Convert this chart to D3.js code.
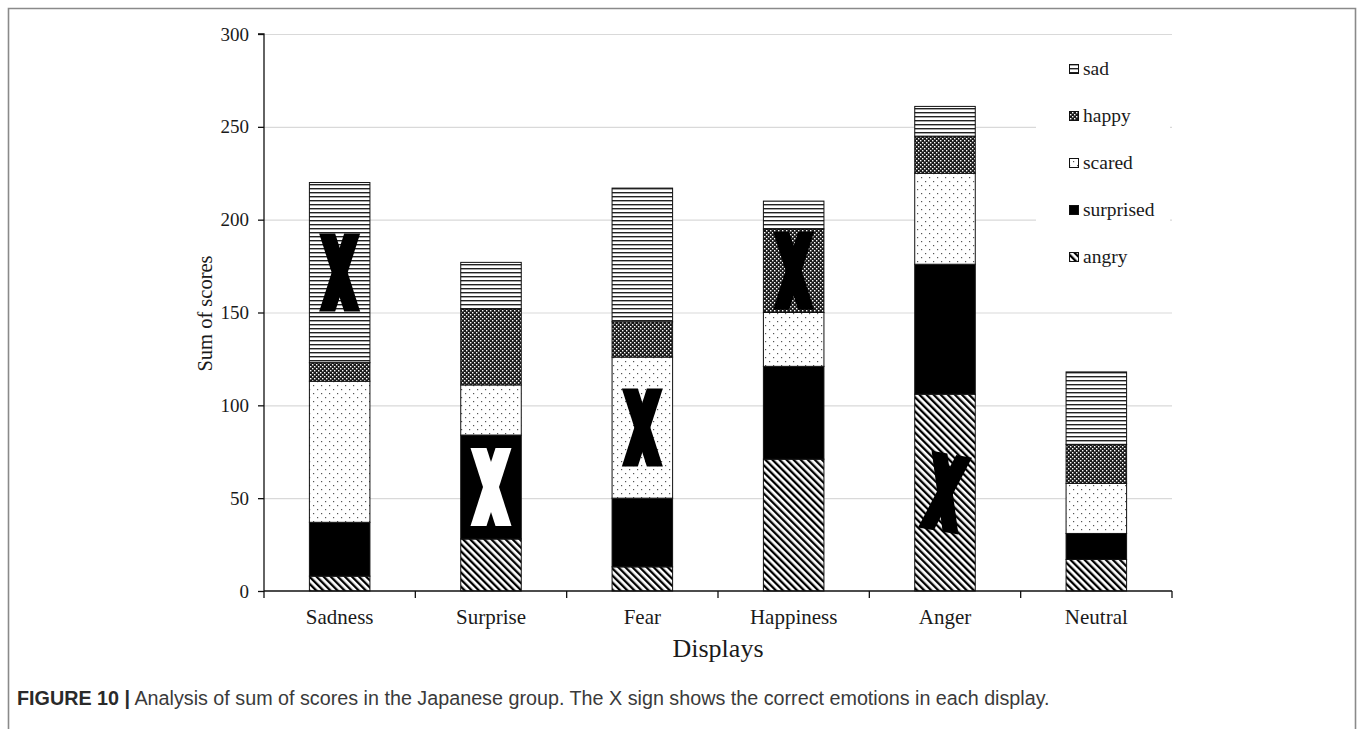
<!DOCTYPE html>
<html>
<head>
<meta charset="utf-8">
<script src="https://cdn.jsdelivr.net/npm/d3@7/dist/d3.min.js"></script>
<style>
  html, body { margin: 0; padding: 0; background: #fff; }
  svg { display: block; }
</style>
</head>
<body>
<svg id="chart" width="1357" height="729"></svg>
<script>
// ---- data ----
const categories = ["Sadness", "Surprise", "Fear", "Happiness", "Anger", "Neutral"];
const seriesNames = ["angry", "surprised", "scared", "happy", "sad"];
const angry     = [8, 28, 13, 71, 106, 17];
const surprised = [29, 56, 37, 50, 70, 14];
const scared    = [76, 27, 76, 29, 49, 27];
const happy     = [10, 41, 19, 45, 20, 21];
const sad       = [97, 25, 72, 15, 16, 39];
const yTicks = [0, 50, 100, 150, 200, 250, 300];
const legendOrder = ["sad", "happy", "scared", "surprised", "angry"];
// X sign: which segment of each display is the correct emotion
const correctCategory = ["Sadness", "Surprise", "Fear", "Happiness", "Anger"];
const correctSeries   = ["sad", "surprised", "scared", "happy", "angry"];
const xAxisTitle = "Displays";
const yAxisTitle = "Sum of scores";
const captionBold = "FIGURE 10 |";
const captionText = " Analysis of sum of scores in the Japanese group. The X sign shows the correct emotions in each display.";

const seriesValues = { angry, surprised, scared, happy, sad };

// ---- layout ----
const svg = d3.select("#chart");
const plot = { left: 264, right: 1172, top: 34, bottom: 591 };
const serif = "'Liberation Serif', 'Times New Roman', serif";
const sans = "'Liberation Sans', Arial, sans-serif";

// outer frame
svg.append("path")
  .attr("d", "M8.5,729 V8.5 H1355.5 V729")
  .attr("fill", "none").attr("stroke", "#8a8a8a").attr("stroke-width", 1.6);

const x = d3.scaleBand().domain(categories).range([plot.left, plot.right])
  .paddingInner(0.6).paddingOuter(0.3);
const y = d3.scaleLinear().domain([0, 300]).range([plot.bottom, plot.top]);

// ---- patterns ----
const defs = svg.append("defs");
function pat(id, w, h, transform) {
  const p = defs.append("pattern").attr("id", id).attr("patternUnits", "userSpaceOnUse")
    .attr("width", w).attr("height", h);
  if (transform) p.attr("patternTransform", transform);
  return p;
}
// sad: horizontal lines
let p = pat("p-sad", 8, 4);
p.append("rect").attr("width", 8).attr("height", 4).attr("fill", "#fff");
p.append("rect").attr("y", 0).attr("width", 8).attr("height", 1.4).attr("fill", "#222");
// happy: fine checker
p = pat("p-happy", 4, 4);
p.append("rect").attr("width", 4).attr("height", 4).attr("fill", "#1a1a1a");
p.append("rect").attr("x", 0).attr("y", 0).attr("width", 1.4).attr("height", 1.4).attr("fill", "#fff");
p.append("rect").attr("x", 2).attr("y", 2).attr("width", 1.4).attr("height", 1.4).attr("fill", "#fff");
// scared: sparse dots
p = pat("p-scared", 8, 8);
p.append("rect").attr("width", 8).attr("height", 8).attr("fill", "#fff");
p.append("rect").attr("x", 1).attr("y", 1).attr("width", 1.2).attr("height", 1.2).attr("fill", "#555");
p.append("rect").attr("x", 5).attr("y", 5).attr("width", 1.2).attr("height", 1.2).attr("fill", "#555");
// surprised: solid black
p = pat("p-surprised", 4, 4);
p.append("rect").attr("width", 4).attr("height", 4).attr("fill", "#000");
// angry: diagonal "\" stripes
p = pat("p-angry", 5, 5, "rotate(-45)");
p.append("rect").attr("width", 5).attr("height", 5).attr("fill", "#fff");
p.append("rect").attr("x", 0).attr("width", 2.3).attr("height", 5).attr("fill", "#000");

const fillOf = s => `url(#p-${s})`;

// ---- grid ----
svg.append("g").selectAll("line").data(yTicks.filter(d => d > 0)).join("line")
  .attr("x1", plot.left).attr("x2", plot.right)
  .attr("y1", d => y(d) + 0.5).attr("y2", d => y(d) + 0.5)
  .attr("stroke", "#d9d9d9").attr("stroke-width", 1.2);

// ---- bars ----
const stackData = categories.map((c, i) => {
  const o = { category: c };
  seriesNames.forEach(s => o[s] = seriesValues[s][i]);
  return o;
});
const stacked = d3.stack().keys(seriesNames)(stackData);
const barsG = svg.append("g");
stacked.forEach(layer => {
  barsG.append("g").selectAll("rect").data(layer).join("rect")
    .attr("x", d => x(d.data.category))
    .attr("width", x.bandwidth())
    .attr("y", d => y(d[1]))
    .attr("height", d => y(d[0]) - y(d[1]))
    .attr("fill", fillOf(layer.key))
    .attr("stroke", "#111").attr("stroke-width", 1);
});

// ---- X signs ----
const xg = svg.append("g");
correctCategory.forEach((c, i) => {
  const s = correctSeries[i];
  const layer = stacked.find(l => l.key === s);
  const seg = layer[categories.indexOf(c)];
  const cx = x(c) + x.bandwidth() / 2;
  const cy = (y(seg[0]) + y(seg[1])) / 2;
  const w = 41, h = 78, a = 16;
  const x0 = -w / 2, x1 = w / 2, y0 = -h / 2, y1 = h / 2;
  const color = s === "surprised" ? "#fff" : "#000";
  const rot = c === "Anger" ? 10 : 0;
  const g = xg.append("g").attr("transform", `translate(${cx},${cy}) rotate(${rot})`);
  g.append("path").attr("d", `M${x0},${y0} L${x0 + a},${y0} L${x1},${y1} L${x1 - a},${y1} Z`).attr("fill", color);
  g.append("path").attr("d", `M${x1 - a},${y0} L${x1},${y0} L${x0 + a},${y1} L${x0},${y1} Z`).attr("fill", color);
});

// ---- axes ----
const yAxis = svg.append("g").attr("transform", `translate(${plot.left},0)`)
  .call(d3.axisLeft(y).tickValues(yTicks).tickSize(6).tickPadding(9));
yAxis.select(".domain").attr("stroke", "#111").attr("stroke-width", 1.3)
  .attr("d", `M-6,${plot.top}H0V${plot.bottom}`);
yAxis.selectAll(".tick line").attr("stroke", "#111").attr("stroke-width", 1.3);
yAxis.selectAll("text").attr("font-family", serif).attr("font-size", 19).attr("fill", "#1a1a1a");

const xAxis = svg.append("g").attr("transform", `translate(0,${plot.bottom})`)
  .call(d3.axisBottom(x).tickSize(0).tickPadding(18));
xAxis.select(".domain").attr("stroke", "#111").attr("stroke-width", 1.3)
  .attr("d", `M${plot.left},0H${plot.right}`);
xAxis.selectAll("text").attr("font-family", serif).attr("font-size", 21).attr("fill", "#1a1a1a");
// boundary ticks between categories
const boundaries = d3.range(categories.length + 1).map(i => plot.left + i * x.step());
xAxis.selectAll(".btick").data(boundaries).join("line").attr("class", "btick")
  .attr("x1", d => d).attr("x2", d => d).attr("y1", 0).attr("y2", 7)
  .attr("stroke", "#111").attr("stroke-width", 1.3);

// axis titles
svg.append("text").attr("x", (plot.left + plot.right) / 2).attr("y", 657)
  .attr("text-anchor", "middle").attr("font-family", serif).attr("font-size", 26)
  .attr("fill", "#1a1a1a").text(xAxisTitle);
svg.append("text").attr("transform", `translate(212,${(plot.top + plot.bottom) / 2 + 1}) rotate(-90)`)
  .attr("text-anchor", "middle").attr("font-family", serif).attr("font-size", 20.5)
  .attr("fill", "#1a1a1a").text(yAxisTitle);

// ---- legend ----
const lg = svg.append("g");
lg.append("rect").attr("x", 1036).attr("y", 46).attr("width", 134).attr("height", 230).attr("fill", "#fff");
legendOrder.forEach((s, i) => {
  const cy = 69 + i * 47;
  lg.append("rect").attr("x", 1069.5).attr("y", cy - 4.5).attr("width", 9).attr("height", 9)
    .attr("fill", fillOf(s)).attr("stroke", "#111").attr("stroke-width", 1);
  lg.append("text").attr("x", 1083).attr("y", cy + 6).attr("font-family", serif)
    .attr("font-size", 19.5).attr("fill", "#1a1a1a").text(s);
});

// ---- caption ----
const cap = svg.append("text").attr("x", 17).attr("y", 705).attr("font-family", sans)
  .attr("font-size", 15).attr("fill", "#3a3a3a");
cap.append("tspan").attr("font-weight", "bold").attr("fill", "#2a2a2a").text(captionBold);
cap.append("tspan").text(captionText);
const len = cap.node().getComputedTextLength();
cap.attr("font-size", 15 * 1033 / len);
</script>
</body>
</html>
